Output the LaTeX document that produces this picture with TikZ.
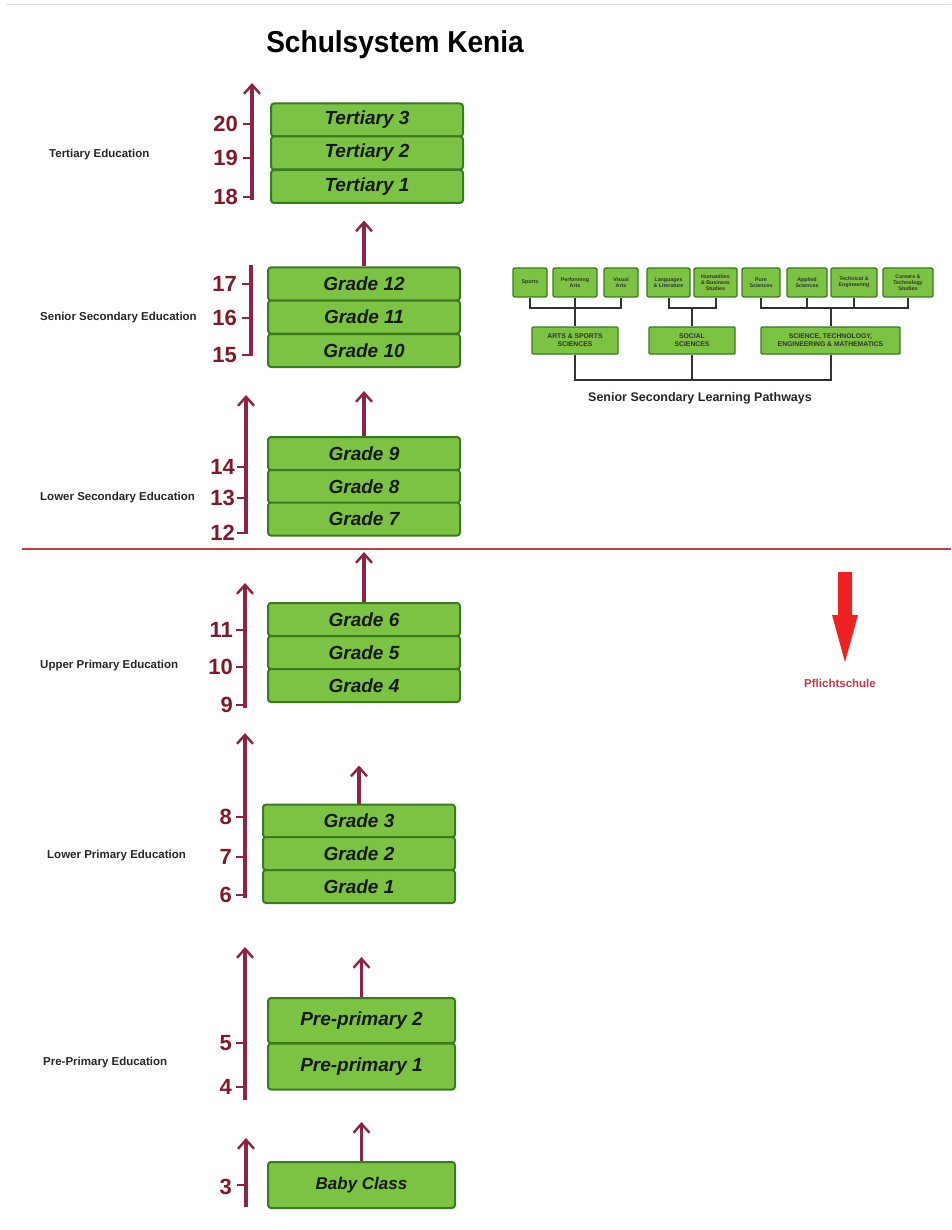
\documentclass[tikz,border=0pt]{standalone}
\usepackage{fontspec}
\setmainfont{Liberation Sans}
\usetikzlibrary{arrows.meta}
\definecolor{gfill}{HTML}{7CC243}
\definecolor{gdraw}{HTML}{3C7A22}
\definecolor{maroon}{HTML}{8E2445}
\definecolor{numcol}{HTML}{7E1A2A}
\definecolor{redline}{HTML}{C23A4C}
\definecolor{bigred}{HTML}{EE2222}
\tikzset{
  gbox/.style={draw=gdraw, fill=gfill, line width=2pt, rounded corners=3pt, inner sep=0pt,
    minimum width=192pt, minimum height=33pt, text=black!90,
    font=\bfseries\itshape\fontsize{19}{22}\selectfont},
  pbox/.style={draw=gdraw, fill=gfill, line width=1.4pt, rounded corners=2pt, inner sep=0pt,
    minimum height=29pt, align=center, text=black!80,
    font=\bfseries\fontsize{5.3}{5.8}\selectfont},
  mbox/.style={draw=gdraw, fill=gfill, line width=1.4pt, rounded corners=1pt, inner sep=0pt,
    minimum height=27pt, align=center, text=black!80,
    font=\bfseries\fontsize{6.8}{7.8}\selectfont},
  stage/.style={anchor=west, inner sep=0pt, text=black!85, font=\bfseries\fontsize{11.5}{13}\selectfont},
  num/.style={anchor=east, inner sep=0pt, text=numcol, font=\bfseries\fontsize{22}{24}\selectfont},
  axis/.style={draw=maroon, line width=3.4pt},
  axtick/.style={draw=maroon, line width=2pt},
  arr/.style={draw=maroon, line width=3.4pt, -{Straight Barb[length=9pt,width=16pt,line width=2.4pt]}},
  conn/.style={draw=black!80, line width=2pt},
}
\begin{document}
\begin{tikzpicture}[x=1pt,y=-1pt]
\useasboundingbox (0,0) rectangle (951,1230);
\draw[black!12, line width=1pt] (6,5) -- (951,5);

\node[inner sep=0pt, font=\bfseries\fontsize{27}{30}\selectfont, yscale=1.12, xscale=1.04] (title) at (395,45) {Schulsystem Kenia};

% ---------- green stacks ----------
\node[gbox] (t3) at (367,120) {Tertiary 3};
\node[gbox] (t2) at (367,153) {Tertiary 2};
\node[gbox] (t1) at (367,186.5) {Tertiary 1};

\node[gbox] (g12) at (364,284) {Grade 12};
\node[gbox] (g11) at (364,317) {Grade 11};
\node[gbox] (g10) at (364,350.5) {Grade 10};

\node[gbox] (g9) at (364,453.5) {Grade 9};
\node[gbox] (g8) at (364,486.5) {Grade 8};
\node[gbox] (g7) at (364,519) {Grade 7};

\node[gbox] (g6) at (364,619.5) {Grade 6};
\node[gbox] (g5) at (364,652.5) {Grade 5};
\node[gbox] (g4) at (364,685.5) {Grade 4};

\node[gbox] (g3) at (359,821) {Grade 3};
\node[gbox] (g2) at (359,853.5) {Grade 2};
\node[gbox] (g1) at (359,886.5) {Grade 1};

\node[gbox, minimum width=187pt, minimum height=45pt] (pp2) at (361.5,1020.5) {Pre-primary 2};
\node[gbox, minimum width=187pt, minimum height=46pt] (pp1) at (361.5,1066.5) {Pre-primary 1};

\node[gbox, minimum width=187pt, minimum height=46pt, font=\bfseries\itshape\fontsize{17}{20}\selectfont] (baby) at (361.5,1185) {Baby Class};

% ---------- arrows between stacks ----------
\draw[arr] (g12.north) -- ++(0,-46);
\draw[arr] (g9.north) -- ++(0,-45);
\draw[arr] (g6.north) -- ++(0,-50);
\draw[arr] (g3.north) -- ++(0,-38);
\draw[arr] (pp2.north) -- ++(0,-40);
\draw[arr] (baby.north) -- ++(0,-39);

% ---------- red separation line ----------
\draw[redline, line width=2.6pt] (22,549) -- (951,549);

% ---------- age axes ----------
% Tertiary
\draw[arr] (252,200) -- (252,83);
\foreach \y/\n in {124/20,158/19,197/18}{
  \draw[axtick] (243,\y) -- (252,\y);
  \node[num] at (238,\y) {\n};
}
% Senior secondary
\draw[axis] (251,265) -- (251,356);
\foreach \y/\n in {284/17,318/16,355/15}{
  \draw[axtick] (242,\y) -- (251,\y);
  \node[num] at (237,\y) {\n};
}
% Lower secondary
\draw[arr] (246,534) -- (246,395);
\foreach \y/\n in {467/14,498/13,533/12}{
  \draw[axtick] (237,\y) -- (246,\y);
  \node[num] at (235,\y) {\n};
}
% Upper primary
\draw[arr] (245,708) -- (245,583);
\foreach \y/\n in {630/11,667/10,705/9}{
  \draw[axtick] (236,\y) -- (245,\y);
  \node[num] at (233,\y) {\n};
}
% Lower primary
\draw[arr] (245,898) -- (245,733);
\foreach \y/\n in {817/8,857/7,895/6}{
  \draw[axtick] (236,\y) -- (245,\y);
  \node[num] at (232,\y) {\n};
}
% Pre-primary
\draw[arr] (245,1100) -- (245,947);
\foreach \y/\n in {1043/5,1087/4}{
  \draw[axtick] (236,\y) -- (245,\y);
  \node[num] at (232,\y) {\n};
}
% Baby class
\draw[arr] (246,1207) -- (246,1138);
\draw[axtick] (237,1185) -- (246,1185);
\node[num] at (232,1187) {3};

% ---------- stage labels ----------
\node[stage] (lt) at (49,155) {Tertiary Education};
\node[stage] (ls) at (40,318) {Senior Secondary Education};
\node[stage] (lls) at (40,498) {Lower Secondary Education};
\node[stage] (lup) at (40,666) {Upper Primary Education};
\node[stage] (llp) at (47,856) {Lower Primary Education};
\node[stage] (lpp) at (43,1063) {Pre-Primary Education};

% ---------- Pflichtschule ----------
\fill[bigred] (838,572) -- (852,572) -- (852,615) -- (858,615) -- (845,662) -- (832,615) -- (838,615) -- cycle;
\node[inner sep=0pt, text=redline, font=\bfseries\fontsize{11.5}{13}\selectfont] (pflicht) at (840,683) {Pflichtschule};

% ---------- Senior Secondary Learning Pathways ----------
\node[pbox, minimum width=34pt] (sp) at (530,282.5) {Sports};
\node[pbox, minimum width=44pt] (pa) at (575,282.5) {Performing\\Arts};
\node[pbox, minimum width=34pt] (va) at (621,282.5) {Visual\\Arts};
\node[pbox, minimum width=43pt] (ll) at (668.5,282.5) {Languages\\\& Literature};
\node[pbox, minimum width=43pt] (hb) at (715.5,282.5) {Humanities\\\& Business\\Studies};
\node[pbox, minimum width=38pt] (ps) at (761,282.5) {Pure\\Sciences};
\node[pbox, minimum width=40pt] (as) at (807,282.5) {Applied\\Sciences};
\node[pbox, minimum width=46pt] (te) at (854,282.5) {Technical \&\\Engineering};
\node[pbox, minimum width=50pt] (ct) at (908,282.5) {Careers \&\\Technology\\Studies};

\node[mbox, minimum width=86pt] (ass) at (575,340.5) {ARTS \& SPORTS\\SCIENCES};
\node[mbox, minimum width=86pt] (soc) at (692,340.5) {SOCIAL\\SCIENCES};
\node[mbox, minimum width=139pt] (stem) at (830.5,340.5) {SCIENCE, TECHNOLOGY,\\ENGINEERING \& MATHEMATICS};

\coordinate (h1) at (0,308);
\draw[conn] (sp.south) |- (h1 -| va.south) -- (va.south);
\draw[conn] (pa.south) -- (ass.north);
\draw[conn] (ll.south) |- (h1 -| hb.south) -- (hb.south);
\draw[conn] (soc.north) -- (h1 -| soc.north);
\draw[conn] (ps.south) |- (h1 -| ct.south) -- (ct.south);
\draw[conn] (as.south) -- (h1 -| as.south);
\draw[conn] (te.south) -- (h1 -| te.south);
\draw[conn] (stem.north) -- (h1 -| stem.north);

\coordinate (h2) at (0,380);
\draw[conn] (ass.south) |- (h2 -| stem.south) -- (stem.south);
\draw[conn] (soc.south) -- (h2 -| soc.south);

\node[inner sep=0pt, text=black!85, font=\bfseries\fontsize{12.5}{14}\selectfont] (pathways) at (700,398) {Senior Secondary Learning Pathways};
\end{tikzpicture}
\end{document}
